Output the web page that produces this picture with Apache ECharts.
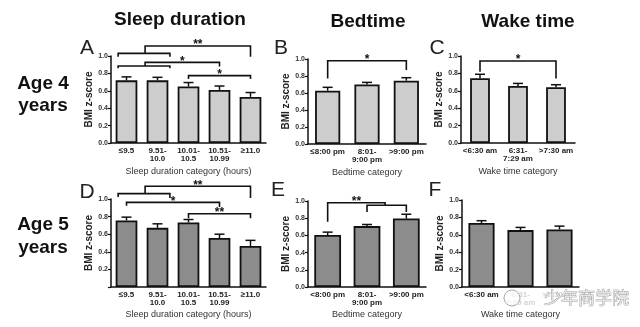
<!DOCTYPE html>
<html><head><meta charset="utf-8">
<script src="https://cdn.jsdelivr.net/npm/echarts@6/dist/echarts.min.js"></script>
<style>html,body{margin:0;padding:0;background:#fff}#c{width:640px;height:327px}</style>
</head><body><div id="c"></div>
<script>
// ---- data ----
const catsSleep = ['≤9.5', '9.51-\n10.0', '10.01-\n10.5', '10.51-\n10.99', '≥11.0'];
const catsBed4 = ['≤8:00 pm', '8:01-\n9:00 pm', '>9:00 pm'];
const catsBed5 = ['<8:00 pm', '8:01-\n9:00 pm', '>9:00 pm'];
const catsWake = ['<6:30 am', '6:31-\n7:29 am', '>7:30 am'];

const sleep4 = [0.72, 0.72, 0.65, 0.61, 0.53];
const sleep4Err = [0.04, 0.035, 0.045, 0.045, 0.05];
const bed4 = [0.627, 0.70, 0.745];
const bed4Err = [0.04, 0.025, 0.035];
const wake4 = [0.745, 0.656, 0.64];
const wake4Err = [0.045, 0.029, 0.03];
const sleep5 = [0.756, 0.672, 0.733, 0.557, 0.466];
const sleep5Err = [0.038, 0.046, 0.034, 0.043, 0.064];
const bed5 = [0.604, 0.708, 0.796];
const bed5Err = [0.034, 0.019, 0.05];
const wake5 = [0.735, 0.654, 0.662];
const wake5Err = [0.027, 0.031, 0.038];

const yTicks = [0, 0.2, 0.4, 0.6, 0.8, 1.0];

// significance brackets: [x1, x2, yTop, yLeftEnd, yRightEnd, label]
const brA = [
  [-0.27, 1.4, 1.03, 0.99, 0.99, ''],
  [0.6, 4, 1.115, 1.03, 0.99, '**'],
  [-0.27, 1.4, 0.885, 0.86, 0.86, ''],
  [0.6, 3, 0.927, 0.885, 0.878, '*'],
  [2, 4, 0.775, 0.737, 0.737, '*']
];
const brB = [[0, 2, 0.98, 0.77, 0.87, '*']];
const brC = [[0, 2, 0.943, 0.82, 0.74, '*']];
const brD = [
  [-0.27, 1.4, 1.061, 1.023, 1.011, ''],
  [0.6, 4, 1.145, 1.061, 1.011, '**'],
  [0, 3, 0.962, 0.924, 0.908, '*'],
  [2, 4, 0.832, 0.782, 0.782, '**']
];
const brE = [
  [0, 1.46, 0.98, 0.758, 0.95, '**'],
  [1, 2, 0.95, 0.873, 0.873, '']
];
const brF = [];

const FONT = 'Liberation Sans, Arial, sans-serif';
const panels = [
  {cats: catsSleep, vals: sleep4, errs: sleep4Err, br: brA, grid: {left: 111, top: 56, width: 155, height: 87}, color: '#cdcdcd', bw: '70%', nameGap: 24, hideZero: false, letter: 'A'},
  {cats: catsBed4, vals: bed4, errs: bed4Err, br: brB, grid: {left: 308, top: 59, width: 118, height: 85}, color: '#cdcdcd', bw: '64%', nameGap: 24, hideZero: false, letter: 'B'},
  {cats: catsWake, vals: wake4, errs: wake4Err, br: brC, grid: {left: 461, top: 56, width: 114, height: 87}, color: '#cdcdcd', bw: '52%', nameGap: 24, hideZero: false, letter: 'C'},
  {cats: catsSleep, vals: sleep5, errs: sleep5Err, br: brD, grid: {left: 111, top: 199, width: 155, height: 88}, color: '#8c8c8c', bw: '70%', nameGap: 23, hideZero: true, letter: 'D'},
  {cats: catsBed5, vals: bed5, errs: bed5Err, br: brE, grid: {left: 308, top: 201, width: 118, height: 86}, color: '#8c8c8c', bw: '68%', nameGap: 23, hideZero: false, letter: 'E'},
  {cats: catsWake, vals: wake5, errs: wake5Err, br: brF, grid: {left: 462, top: 200, width: 117, height: 87}, color: '#8c8c8c', bw: '67%', nameGap: 23, hideZero: false, letter: 'F', faded: [1, 2]}
];
const xTitles = ['Sleep duration category (hours)', 'Bedtime category', 'Wake time category',
                 'Sleep duration category (hours)', 'Bedtime category', 'Wake time category'];

const chart = echarts.init(document.getElementById('c'), null, {renderer: 'canvas'});
const grids = [], xAxes = [], yAxes = [], series = [];
panels.forEach((p, i) => {
  grids.push(Object.assign({containLabel: false}, p.grid));
  xAxes.push({
    type: 'category', gridIndex: i, data: p.cats,
    name: xTitles[i], nameLocation: 'middle', nameGap: p.nameGap,
    nameTextStyle: {fontFamily: FONT, fontSize: 9, color: '#333'},
    axisLine: {lineStyle: {color: '#111', width: 1.5}},
    axisTick: {alignWithLabel: true, length: 3, lineStyle: {color: '#111', width: 1.2}},
    axisLabel: {
      interval: 0, margin: 4, fontFamily: FONT, fontSize: 8, fontWeight: 'bold', lineHeight: 8, color: '#222',
      formatter: (v, idx) => (p.faded && p.faded.indexOf(idx) >= 0) ? '{f|' + v.split('\n').join('}\n{f|') + '}' : v,
      rich: {f: {color: '#d4d4d4', fontFamily: FONT, fontSize: 8, fontWeight: 'bold', lineHeight: 8}}
    }
  });
  yAxes.push({
    type: 'value', gridIndex: i, min: yTicks[0], max: yTicks[yTicks.length - 1], interval: 0.2,
    name: 'BMI z-score', nameLocation: 'middle', nameGap: 17,
    nameTextStyle: {fontFamily: FONT, fontSize: 10, fontWeight: 'bold', color: '#222'},
    axisLine: {show: true, lineStyle: {color: '#111', width: 1.5}},
    axisTick: {show: true, length: 3, lineStyle: {color: '#111', width: 1.2}},
    splitLine: {show: false},
    axisLabel: {margin: 3, fontFamily: FONT, fontSize: 7, fontWeight: 'bold', color: '#333',
      formatter: v => (p.hideZero && v === 0) ? '' : v.toFixed(1)}
  });
  series.push({
    type: 'bar', xAxisIndex: i, yAxisIndex: i, data: p.vals, barWidth: p.bw,
    itemStyle: {color: p.color, borderColor: '#111', borderWidth: 1.8},
    silent: true, animation: false
  });
  series.push({
    type: 'custom', xAxisIndex: i, yAxisIndex: i,
    data: p.vals.map((v, k) => [k, v, p.errs[k]]),
    encode: {x: 0, y: 1},
    renderItem: (params, api) => {
      const k = api.value(0), v = api.value(1), e = api.value(2);
      const b = api.coord([k, v]), t = api.coord([k, v + e]);
      const style = {stroke: '#111', lineWidth: 1.5};
      return {type: 'group', children: [
        {type: 'line', shape: {x1: b[0], y1: b[1], x2: t[0], y2: t[1]}, style},
        {type: 'line', shape: {x1: t[0] - 5, y1: t[1], x2: t[0] + 5, y2: t[1]}, style}
      ]};
    },
    z: 5, animation: false, silent: true
  });
  if (p.br.length) {
    series.push({
      type: 'custom', xAxisIndex: i, yAxisIndex: i, clip: false,
      data: p.br.map((b, k) => [0, 0]),
      renderItem: (params, api) => {
        const br = p.br[params.dataIndex];
        const c0 = api.coord([0, 0]), c1 = api.coord([1, 0]);
        const step = c1[0] - c0[0];
        const px = x => c0[0] + x * step;
        const py = y => api.coord([0, y])[1];
        const x1 = px(br[0]), x2 = px(br[1]), yt = py(br[2]);
        const children = [{
          type: 'polyline',
          shape: {points: [[x1, py(br[3])], [x1, yt], [x2, yt], [x2, py(br[4])]]},
          style: {stroke: '#111', lineWidth: 1.6, fill: null}
        }];
        if (br[5]) children.push({
          type: 'text', x: (x1 + x2) / 2, y: yt - 1,
          style: {text: br[5], fontFamily: FONT, fontSize: 12, fontWeight: 'bold', fill: '#111', align: 'center', verticalAlign: 'middle'}
        });
        return {type: 'group', children};
      },
      z: 6, animation: false, silent: true
    });
  }
});

const letterPos = [[87, 48], [281, 48], [437, 48], [87, 192], [278, 190], [435, 190]];
const graphic = [];
[['Sleep duration', 180, 20], ['Bedtime', 368, 22], ['Wake time', 528, 22]].forEach(t => graphic.push({
  type: 'text', x: t[1], y: t[2],
  style: {text: t[0], fontFamily: FONT, fontSize: 19, fontWeight: 'bold', fill: '#111', align: 'center', verticalAlign: 'middle'}
}));
[['Age 4', 84], ['years', 106], ['Age 5', 225], ['years', 248]].forEach(t => graphic.push({
  type: 'text', x: 43, y: t[1],
  style: {text: t[0], fontFamily: FONT, fontSize: 19, fontWeight: 'bold', fill: '#111', align: 'center', verticalAlign: 'middle'}
}));
panels.forEach((p, i) => graphic.push({
  type: 'text', x: letterPos[i][0], y: letterPos[i][1],
  style: {text: p.letter, fontFamily: FONT, fontSize: 21, fill: '#222', align: 'center', verticalAlign: 'middle'}
}));
// watermark
graphic.push({type: 'circle', shape: {cx: 512, cy: 298, r: 8}, style: {fill: 'rgba(255,255,255,0.6)', stroke: '#aaa', lineWidth: 1}, z: 20});
graphic.push({type: 'text', x: 544, y: 298, z: 20,
  style: {text: '少年商学院', fontFamily: 'Noto Sans CJK SC', fontSize: 17, fill: '#e6e6e6', stroke: '#8a8a8a', lineWidth: 0.7, align: 'left', verticalAlign: 'middle'}});

chart.setOption({
  animation: false,
  backgroundColor: '#fff',
  grid: grids, xAxis: xAxes, yAxis: yAxes, series, graphic
});
</script></body></html>
